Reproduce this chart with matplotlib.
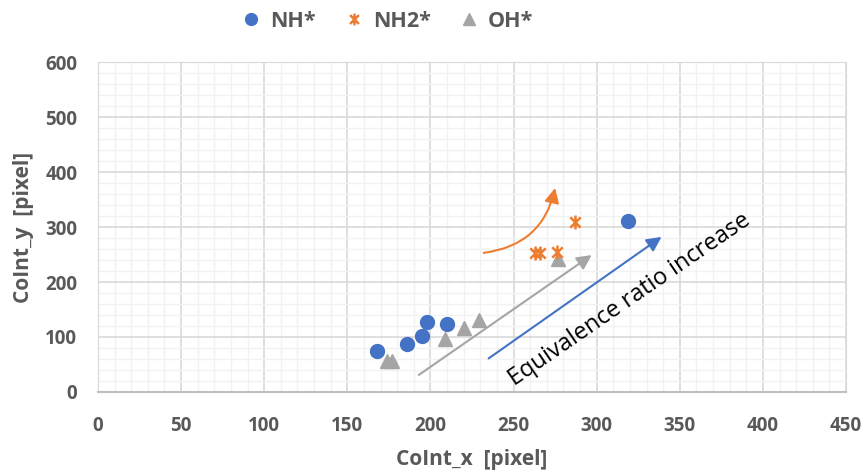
import numpy as np
import matplotlib.pyplot as plt
from matplotlib.ticker import MultipleLocator
from matplotlib.path import Path

# data
nh_x = [168, 186, 195, 198, 210, 319]
nh_y = [75, 87, 102, 127, 123, 311]
nh2_x = [263, 266, 276, 287]
nh2_y = [252, 252, 255, 310]
oh_x = [174, 177, 209, 220, 229, 277]
oh_y = [56, 56, 96, 116, 130, 241]

blue = '#4472C4'
orange = '#ED7D31'
gray = '#A5A5A5'
txt = '#595959'

plt.rcParams['font.family'] = ['Open Sans', 'DejaVu Sans']

# excel-like star marker: X with a vertical bar
star = Path([(-0.75, -0.75), (0.75, 0.75), (-0.75, 0.75), (0.75, -0.75), (0, -1), (0, 1)],
            [Path.MOVETO, Path.LINETO, Path.MOVETO, Path.LINETO, Path.MOVETO, Path.LINETO])

fig = plt.figure(figsize=(8.61, 4.70), dpi=100)
ax = fig.add_axes([0.1138, 0.166, 0.8688, 0.702])

ax.plot(nh_x, nh_y, 'o', color=blue, markersize=10, label='NH*', zorder=4)
ax.plot(nh2_x, nh2_y, linestyle='none', marker=star, color=orange,
        markerfacecolor='none', markersize=10, markeredgewidth=1.8,
        label='NH2*', zorder=4)
ax.plot(oh_x, oh_y, '^', color=gray, markersize=10, label='OH*', zorder=3)

# arrows
ax.annotate('', xy=(297, 249), xytext=(193, 31),
            arrowprops=dict(arrowstyle='-|>', color=gray, lw=1.5,
                            mutation_scale=22, shrinkA=0, shrinkB=0))
ax.annotate('', xy=(339, 282), xytext=(235, 61),
            arrowprops=dict(arrowstyle='-|>', color=blue, lw=1.5,
                            mutation_scale=22, shrinkA=0, shrinkB=0))
ax.annotate('', xy=(275, 371), xytext=(232, 253),
            arrowprops=dict(arrowstyle='-|>', color=orange, lw=1.5,
                            mutation_scale=22, shrinkA=0, shrinkB=0,
                            connectionstyle='arc3,rad=0.35'))

ax.text(320, 167, 'Equivalence ratio increase', rotation=34.5,
        rotation_mode='anchor', ha='center', va='center',
        fontsize=17, color='black')

ax.set_xlim(0, 450)
ax.set_ylim(0, 600)
ax.xaxis.set_major_locator(MultipleLocator(50))
ax.xaxis.set_minor_locator(MultipleLocator(10))
ax.yaxis.set_major_locator(MultipleLocator(100))
ax.yaxis.set_minor_locator(MultipleLocator(20))
ax.grid(which='major', color='#D9D9D9', lw=1.2, zorder=0)
ax.grid(which='minor', color='#F2F2F2', lw=1.0, zorder=0)
ax.set_axisbelow(True)
for s in ax.spines.values():
    s.set_color('#D9D9D9')
ax.spines['bottom'].set_color('#BFBFBF')
ax.spines['bottom'].set_linewidth(1.5)
ax.tick_params(which='both', length=0)
ax.tick_params(axis='x', pad=17)
ax.tick_params(axis='y', pad=15)
for lab in ax.get_xticklabels() + ax.get_yticklabels():
    lab.set_fontweight('bold')
    lab.set_fontsize(13.5)
    lab.set_color(txt)

ax.set_xlabel('CoInt_x  [pixel]', fontsize=15, fontweight='bold', color=txt, labelpad=10)
ax.set_ylabel('CoInt_y  [pixel]', fontsize=15, fontweight='bold', color=txt, labelpad=8)

fig.legend(loc='center', bbox_to_anchor=(0.446, 0.955), ncol=3, frameon=False,
           prop={'weight': 'bold', 'size': 15.5}, labelcolor=txt,
           handletextpad=0.15, columnspacing=1.0, handlelength=1.5, markerscale=0.85)

fig.savefig('out.png', dpi=100)
